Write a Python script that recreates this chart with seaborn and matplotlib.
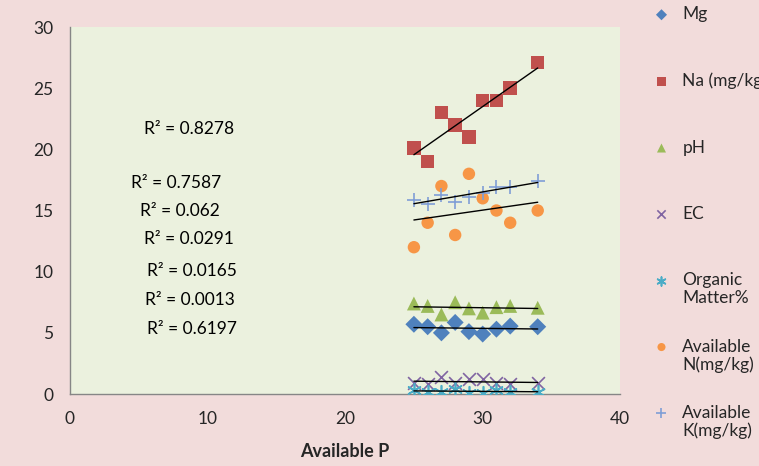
import matplotlib
matplotlib.use('Agg')
import matplotlib.pyplot as plt
import seaborn as sns
import numpy as np

# Available P (x) shared by all series
avail_p = [25, 26, 27, 28, 29, 30, 31, 32, 34]

mg = [5.7, 5.5, 5.0, 5.85, 5.1, 4.9, 5.3, 5.55, 5.5]
na = [20.1, 19.0, 23.0, 22.0, 21.0, 24.0, 24.0, 25.0, 27.1]
ph = [7.4, 7.2, 6.5, 7.5, 7.0, 6.65, 7.1, 7.2, 7.05]
ec = [0.9, 0.8, 1.4, 0.9, 1.2, 1.2, 0.9, 0.8, 0.9]
organic = [0.3, 0.2, 0.2, 0.4, 0.1, 0.1, 0.3, 0.2, 0.2]
avail_n = [12.0, 14.0, 17.0, 13.0, 18.0, 16.0, 15.0, 14.0, 15.0]
avail_k = [15.9, 15.5, 16.3, 15.7, 16.1, 16.4, 16.9, 16.95, 17.4]

# legend labels: first line, optional second line
series_labels = ['Mg', 'Na (mg/kg)', 'pH', 'EC', 'Organic', 'Available', 'Available']
second_lines = ['', '', '', '', 'Matter%', 'N(mg/kg)', 'K(mg/kg)']

r2_labels = ['R² = 0.8278', 'R² = 0.7587', 'R² = 0.062', 'R² = 0.0291',
             'R² = 0.0165', 'R² = 0.0013', 'R² = 0.6197']
r2_x = [8.65, 7.7, 8.0, 8.65, 8.87, 8.73, 8.87]
r2_y = [21.7, 17.25, 14.96, 12.67, 10.06, 7.69, 5.31]

styles = [
    ('D', '#4F81BD', 75, None),
    ('s', '#C0504D', 95, None),
    ('^', '#9BBB59', 100, None),
    ('x', '#8064A2', 85, 1.2),
    ((6, 2, 0), '#4BACC6', 95, 1.2),
    ('o', '#F79646', 80, None),
    ('+', '#7F9ED6', 110, 1.2),
]

sns.set_style('white')
plt.rcParams['font.family'] = ['Lato', 'DejaVu Sans']

fig = plt.figure(figsize=(7.59, 4.66), dpi=100, facecolor='#F2DCDB')
ax = fig.add_axes([0.0922, 0.1545, 0.725, 0.7875])
ax.set_facecolor('#EBF1DE')

all_y = [mg, na, ph, ec, organic, avail_n, avail_k]
for yvals, label, (mk, col, sz, lw) in zip(all_y, series_labels, styles):
    kw = dict(marker=mk, s=sz, color=col, label=label, ax=ax, zorder=3)
    if lw is None:
        kw['edgecolor'] = 'none'
    else:
        kw['linewidth'] = lw
    sns.scatterplot(x=avail_p, y=yvals, **kw)
    sns.regplot(x=np.array(avail_p, float), y=np.array(yvals, float), scatter=False,
                ci=None, truncate=True, ax=ax,
                line_kws=dict(color='black', lw=1.0, zorder=4))

for txt, tx, ty in zip(r2_labels, r2_x, r2_y):
    ax.text(tx, ty, txt, ha='center', va='center', fontsize=12.5, color='black')

ax.set_xlim(0, 40)
ax.set_ylim(0, 30)
ax.set_xticks([0, 10, 20, 30, 40])
ax.set_yticks([0, 5, 10, 15, 20, 25, 30])
ax.set_xlabel('Available P', fontsize=13, fontweight='bold', labelpad=12)
ax.set_ylabel('')
ax.tick_params(axis='both', direction='out', length=5, color='#868686',
               labelsize=12.5, labelcolor='#262626', pad=7)
for side in ['top', 'right']:
    ax.spines[side].set_visible(False)
for side in ['left', 'bottom']:
    ax.spines[side].set_color('#868686')
    ax.spines[side].set_linewidth(1.0)

handles, labels = ax.get_legend_handles_labels()
if ax.legend_:
    ax.legend_.remove()
leg = fig.legend(handles, labels, loc='upper left', bbox_to_anchor=(0.8395, 1.02),
                 frameon=False, fontsize=12.5, labelspacing=2.9, handletextpad=0.7,
                 handlelength=1.0, markerscale=0.65)

# second lines of the two-line legend entries
fig.canvas.draw()
inv = fig.transFigure.inverted()
for t, extra in zip(leg.get_texts(), second_lines):
    if not extra:
        continue
    bb = t.get_window_extent()
    x0, y0 = inv.transform((bb.x0, bb.y0))
    fig.text(x0, y0 - 0.004, extra, ha='left', va='top', fontsize=12.5,
             fontweight='normal', color=t.get_color())

fig.savefig('out.png', dpi=100, facecolor=fig.get_facecolor())
